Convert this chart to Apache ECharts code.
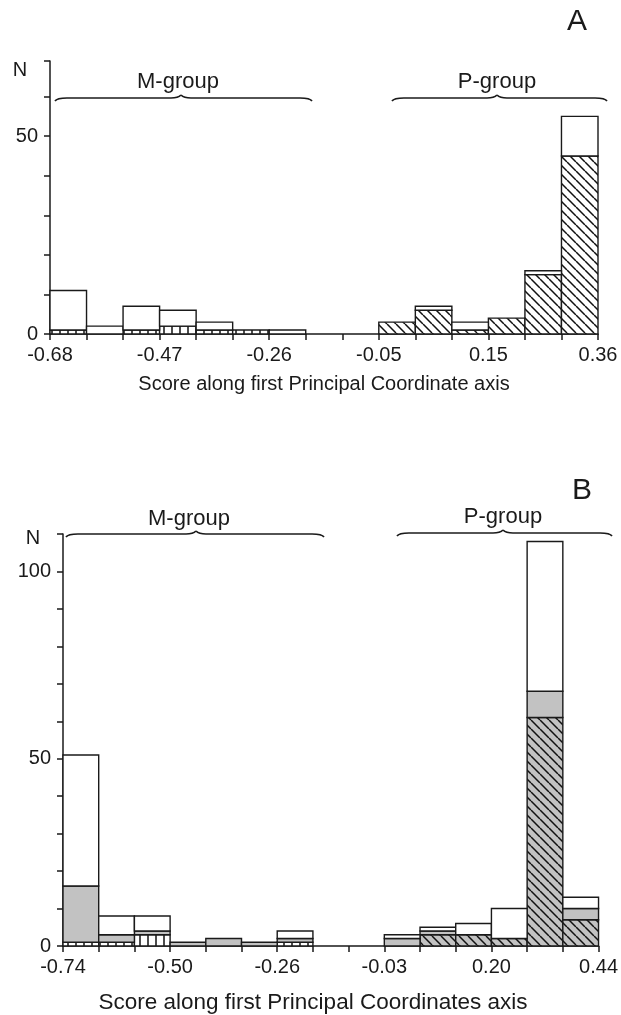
<!DOCTYPE html>
<html>
<head>
<meta charset="utf-8">
<script src="https://cdn.jsdelivr.net/npm/echarts@6/dist/echarts.min.js"></script>
<style>
html,body{margin:0;padding:0;background:#fff;}
#chart{width:621px;height:1015px;}
</style>
</head>
<body>
<div id="chart"></div>
<script>
// ---------- DATA ----------
// 15 histogram bins per panel (index 0..14), tick labels every 3rd bin edge
const binsA = 15;
const tickLabelsA = ['-0.68', '-0.47', '-0.26', '-0.05', '0.15', '0.36'];
// Panel A counts per bin (stack order: vertical-hatched, diagonal-hatched, open)
const aVertHatch = [1, 0, 1, 2, 1, 1, 0, 0, 0, 0, 0, 0, 0, 0, 0];
const aDiagHatch = [0, 0, 0, 0, 0, 0, 0, 0, 0, 3, 6, 1, 4, 15, 45];
const aOpen      = [10, 2, 6, 4, 2, 0, 1, 0, 0, 0, 1, 2, 0, 1, 10];

const binsB = 15;
const tickLabelsB = ['-0.74', '-0.50', '-0.26', '-0.03', '0.20', '0.44'];
// Panel B counts per bin (stack order: vertical-hatched / diagonal-hatched-grey, grey, open)
const bVertHatch = [1, 1, 3, 0, 0, 0, 1, 0, 0, 0, 0, 0, 0, 0, 0];
const bDiagHatch = [0, 0, 0, 0, 0, 0, 0, 0, 0, 0, 3, 3, 2, 61, 7];
const bGrey      = [15, 2, 1, 1, 2, 1, 1, 0, 0, 2, 1, 0, 0, 7, 3];
const bOpen      = [35, 5, 4, 0, 0, 0, 2, 0, 0, 1, 1, 3, 8, 40, 3];

// ---------- STYLE HELPERS ----------
const FONT = 'Liberation Sans';
const INK = '#1a1a1a';
const GREY = '#c2c2c2';

function makePattern(bg, kind) {
  const s = kind === 'diag' ? 9 : 8;
  const c = document.createElement('canvas');
  c.width = s; c.height = s;
  const g = c.getContext('2d');
  g.fillStyle = bg; g.fillRect(0, 0, s, s);
  g.strokeStyle = '#111'; g.lineWidth = 1.5;
  g.beginPath();
  if (kind === 'diag') {
    for (let k = -1; k <= 1; k++) { g.moveTo(k * s, 0); g.lineTo(k * s + s, s); }
  } else {
    g.moveTo(s / 2, 0); g.lineTo(s / 2, s);
  }
  g.stroke();
  return { image: c, repeat: 'repeat' };
}
const fills = {
  vert: makePattern('#ffffff', 'vert'),
  diag: makePattern('#ffffff', 'diag'),
  diagGrey: makePattern(GREY, 'diag'),
  grey: GREY,
  open: '#ffffff'
};

// build stacked rectangle segments [x0, x1, y0, y1]
function buildStack(layers) {
  const n = layers[0].values.length;
  const cum = new Array(n).fill(0);
  return layers.map(layer => {
    const segs = [];
    layer.values.forEach((v, i) => {
      if (v > 0) segs.push([i, i + 1, cum[i], cum[i] + v]);
      cum[i] += v;
    });
    return { fill: layer.fill, data: segs };
  });
}

const stackA = buildStack([
  { values: aVertHatch, fill: fills.vert },
  { values: aDiagHatch, fill: fills.diag },
  { values: aOpen, fill: fills.open }
]);
const stackB = buildStack([
  { values: bVertHatch, fill: fills.vert },
  { values: bDiagHatch, fill: fills.diagGrey },
  { values: bGrey, fill: fills.grey },
  { values: bOpen, fill: fills.open }
]);

function rectSeries(layer, idx) {
  return {
    type: 'custom',
    xAxisIndex: idx, yAxisIndex: idx,
    silent: true,
    encode: { x: [0, 1], y: [2, 3] },
    data: layer.data,
    renderItem: function (params, api) {
      const p0 = api.coord([api.value(0), api.value(3)]);
      const p1 = api.coord([api.value(1), api.value(2)]);
      return {
        type: 'rect',
        shape: { x: p0[0], y: p0[1], width: p1[0] - p0[0], height: p1[1] - p0[1] },
        style: { fill: layer.fill, stroke: INK, lineWidth: 1.4 }
      };
    }
  };
}

function xAxisCfg(idx, nb, labels) {
  return {
    type: 'value', gridIndex: idx, min: 0, max: nb, interval: 1,
    splitLine: { show: false },
    axisLine: { lineStyle: { color: INK, width: 1.5 } },
    axisTick: { show: true, length: 6, lineStyle: { color: INK, width: 1.5 } },
    axisLabel: {
      margin: 11, color: INK, fontFamily: FONT, fontSize: 20,
      formatter: v => (Math.round(v) % 3 === 0 ? labels[Math.round(v) / 3] : '')
    }
  };
}
function yAxisCfg(idx, max, shown) {
  return {
    type: 'value', gridIndex: idx, min: 0, max: max, interval: 10,
    splitLine: { show: false },
    axisLine: { show: true, lineStyle: { color: INK, width: 1.5 } },
    axisTick: { show: true, length: 6, lineStyle: { color: INK, width: 1.5 } },
    axisLabel: {
      margin: 12, color: INK, fontFamily: FONT, fontSize: 20,
      formatter: v => (shown.indexOf(v) >= 0 ? String(v) : '')
    }
  };
}

function brace(x0, x1, xc, y) {
  const st = { stroke: INK, lineWidth: 1.7, fill: null };
  const q = (a, b, c, d, e, f) => ({ type: 'bezierCurve', silent: true, style: st,
    shape: { x1: a, y1: b, cpx1: c, cpy1: d, x2: e, y2: f } });
  const l = (a, b, c, d) => ({ type: 'line', silent: true, style: st,
    shape: { x1: a, y1: b, x2: c, y2: d } });
  return [
    q(x0, y + 3, x0 + 2, y, x0 + 12, y),
    l(x0 + 12, y, xc - 10, y),
    q(xc - 10, y, xc - 3, y, xc, y - 3),
    q(xc, y - 3, xc + 3, y, xc + 10, y),
    l(xc + 10, y, x1 - 12, y),
    q(x1 - 12, y, x1 - 2, y, x1, y + 3)
  ];
}
function txt(x, y, s, size, align) {
  return { type: 'text', x: x, y: y, silent: true,
    style: { text: s, fill: INK, font: size + 'px "' + FONT + '"', align: align || 'center', verticalAlign: 'middle' } };
}

const chart = echarts.init(document.getElementById('chart'), null, { renderer: 'canvas' });
chart.setOption({
  backgroundColor: '#ffffff',
  animation: false,
  grid: [
    { left: 50, width: 548, top: 61, height: 273 },
    { left: 63, width: 539, top: 534, height: 412 }
  ],
  xAxis: [xAxisCfg(0, binsA, tickLabelsA), xAxisCfg(1, binsB, tickLabelsB)],
  yAxis: [yAxisCfg(0, 69, [0, 50]), yAxisCfg(1, 110, [0, 50, 100])],
  series: stackA.map(l => rectSeries(l, 0)).concat(stackB.map(l => rectSeries(l, 1))),
  graphic: [].concat(
    [txt(577, 22, 'A', 30),
    txt(582, 491, 'B', 30),
    txt(20, 70, 'N', 20),
    txt(33, 538, 'N', 20)],
    brace(55, 312, 181, 98),
    brace(392, 607, 497, 98),
    [txt(178, 82, 'M-group', 22),
    txt(497, 82, 'P-group', 22)],
    brace(66, 324, 196, 534),
    brace(397, 612, 503, 533),
    [txt(189, 519, 'M-group', 22),
    txt(503, 517, 'P-group', 22),
    txt(324, 384, 'Score along first Principal Coordinate axis', 20),
    txt(313, 1003, 'Score along first Principal Coordinates axis', 22.5)]
  )
});
</script>
</body>
</html>
